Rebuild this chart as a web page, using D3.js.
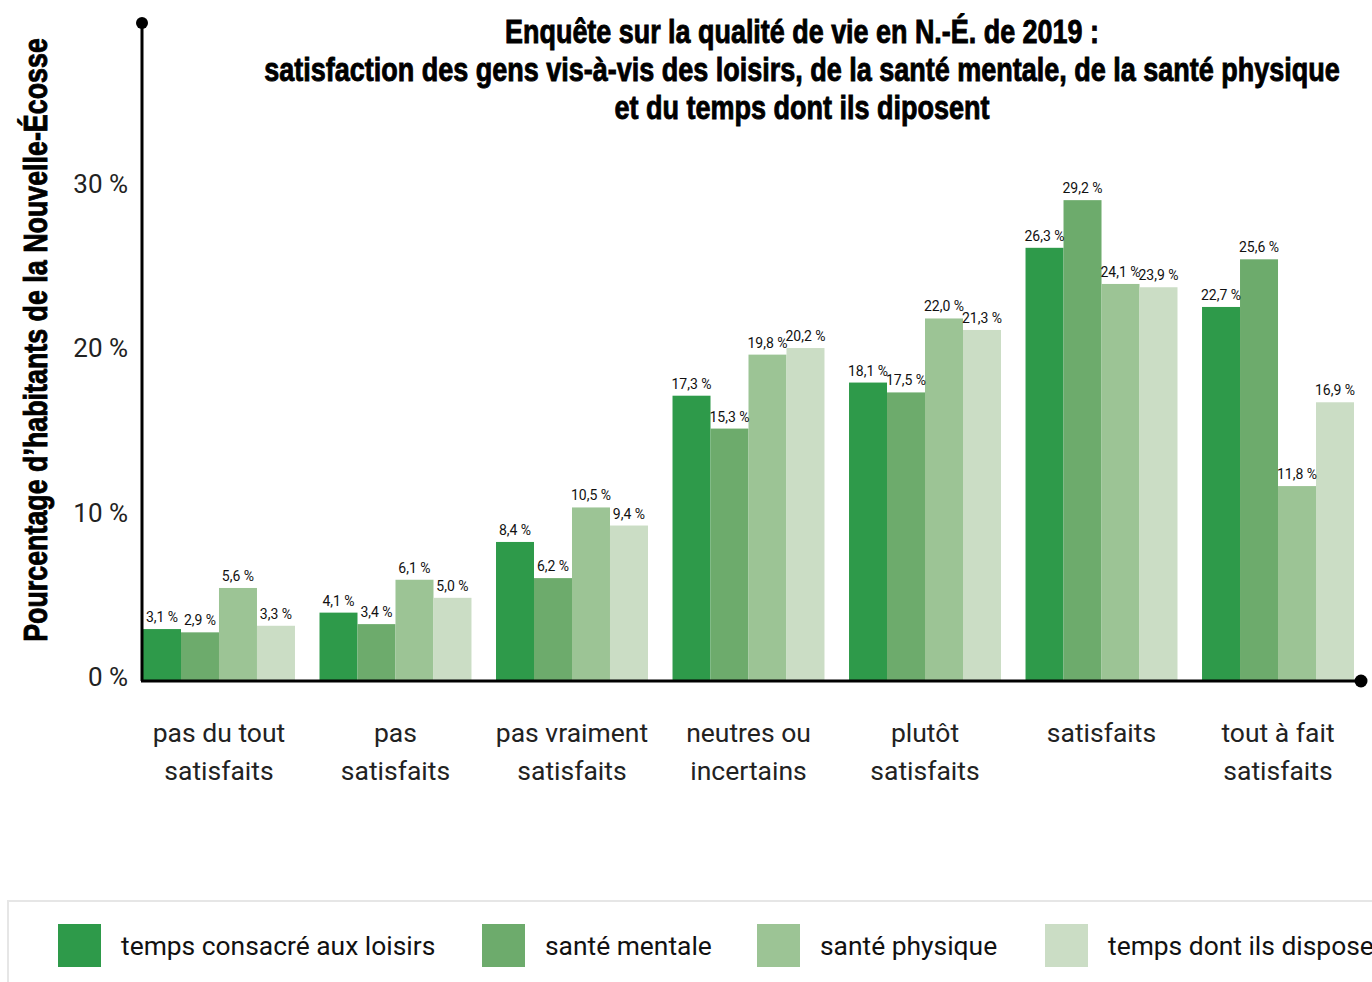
<!DOCTYPE html>
<html lang="fr">
<head>
<meta charset="utf-8">
<script src="https://cdn.jsdelivr.net/npm/d3@7"></script>
<style>
  body { margin: 0; background: #fff; }
  svg { display: block; }
</style>
</head>
<body>
<div id="chart"></div>
<script>
const categories = [
  ["pas du tout", "satisfaits"],
  ["pas", "satisfaits"],
  ["pas vraiment", "satisfaits"],
  ["neutres ou", "incertains"],
  ["plutôt", "satisfaits"],
  ["satisfaits"],
  ["tout à fait", "satisfaits"]
]
const seriesNames = [
  "temps consacré aux loisirs",
  "santé mentale",
  "santé physique",
  "temps dont ils disposent"
]
const loisirs = [3.1, 4.1, 8.4, 17.3, 18.1, 26.3, 22.7]
const santeMentale = [2.9, 3.4, 6.2, 15.3, 17.5, 29.2, 25.6]
const santePhysique = [5.6, 6.1, 10.5, 19.8, 22.0, 24.1, 11.8]
const tempsDispo = [3.3, 5.0, 9.4, 20.2, 21.3, 23.9, 16.9]
const yTicks = [0, 10, 20, 30]
const colors = ["#2e9a4a", "#6dab6c", "#9cc495", "#cbddc5"]

const series = [loisirs, santeMentale, santePhysique, tempsDispo]
const data = categories.map((c, i) => ({
  key: c.join(" "),
  lines: c,
  values: series.map((s, j) => ({ name: seriesNames[j], value: s[i] }))
}))

const W = 1372, H = 982
const svg = d3.select("#chart").append("svg").attr("width", W).attr("height", H)

const x0 = d3.scaleBand().domain(data.map((d) => d.key)).range([143, 1354])
  .paddingInner(0.139).paddingOuter(0)
const x1 = d3.scaleBand().domain(seriesNames).range([0, x0.bandwidth()])
const y = d3.scaleLinear().domain([0, 30]).range([680, 187])
const color = d3.scaleOrdinal().domain(seriesNames).range(colors)
const fmt = (v) => d3.format(".1f")(v).replace(".", ",") + " %"

// squeeze a condensed heading to the wanted width, keeping its height
function fitWidth(sel, len, tx, ty, rot) {
  sel.each(function () {
    const w = this.getComputedTextLength()
    const k = Math.min(1, len / w)
    d3.select(this).attr("transform", `translate(${tx},${ty}) rotate(${rot || 0}) scale(${k},1)`)
  })
}

// bars
const groups = svg.selectAll(".group").data(data).join("g")
  .attr("class", "group")
  .attr("transform", (d) => `translate(${x0(d.key)},0)`)

groups.selectAll("rect").data((d) => d.values).join("rect")
  .attr("x", (d) => x1(d.name))
  .attr("y", (d) => y(d.value))
  .attr("width", x1.bandwidth())
  .attr("height", (d) => y(0) - y(d.value))
  .attr("fill", (d) => color(d.name))

groups.selectAll(".val").data((d) => d.values).join("text")
  .attr("class", "val")
  .attr("x", (d) => x1(d.name) + x1.bandwidth() / 2)
  .attr("y", (d) => y(d.value) - 7)
  .attr("text-anchor", "middle")
  .style("font-family", "'Liberation Sans Narrow', Roboto, sans-serif")
  .style("font-size", "14px")
  .attr("fill", "#111")
  .text((d) => fmt(d.value))

// y ticks
svg.selectAll(".ytick").data(yTicks).join("text")
  .attr("class", "ytick")
  .attr("x", 128)
  .attr("y", (d) => y(d) - 3)
  .attr("dy", "0.35em")
  .attr("text-anchor", "end")
  .style("font-family", "Roboto, sans-serif")
  .style("font-size", "26px")
  .attr("fill", "#222")
  .text((d) => d + " %")

// axes lines
svg.append("line").attr("x1", 142).attr("x2", 142).attr("y1", 22).attr("y2", 681)
  .attr("stroke", "#000").attr("stroke-width", 3)
svg.append("line").attr("x1", 141).attr("x2", 1362).attr("y1", 681).attr("y2", 681)
  .attr("stroke", "#000").attr("stroke-width", 3)
svg.append("circle").attr("cx", 142).attr("cy", 23).attr("r", 6).attr("fill", "#000")
svg.append("circle").attr("cx", 1361).attr("cy", 681).attr("r", 6.5).attr("fill", "#000")

// category labels
const catLabels = svg.selectAll(".cat").data(data).join("text")
  .attr("class", "cat")
  .attr("x", (d) => x0(d.key) + x0.bandwidth() / 2)
  .attr("y", 742)
  .attr("text-anchor", "middle")
  .style("font-family", "Roboto, sans-serif")
  .style("font-size", "26.5px")
  .attr("fill", "#222")
catLabels.selectAll("tspan").data((d) => d.lines).join("tspan")
  .attr("x", function () { return d3.select(this.parentNode).attr("x") })
  .attr("dy", (d, i) => (i === 0 ? 0 : 38))
  .text((d) => d)

// title
const titleLines = [
  { text: "Enquête sur la qualité de vie en N.-É. de 2019 :", len: 594 },
  { text: "satisfaction des gens vis-à-vis des loisirs, de la santé mentale, de la santé physique", len: 1076 },
  { text: "et du temps dont ils diposent", len: 375 }
]
svg.selectAll(".title").data(titleLines).join("text")
  .attr("class", "title")
  .attr("text-anchor", "middle")
  .style("font-family", "'Liberation Sans Narrow', sans-serif")
  .style("font-weight", "bold")
  .style("font-size", "34px")
  .attr("fill", "#000")
  .attr("stroke", "#000")
  .attr("stroke-width", 0.9)
  .text((d) => d.text)
  .each(function (d, i) { fitWidth(d3.select(this), d.len, 802, 43 + i * 38) })

// y axis title
svg.append("text")
  .attr("text-anchor", "middle")
  .style("font-family", "'Liberation Sans Narrow', sans-serif")
  .style("font-weight", "bold")
  .style("font-size", "34px")
  .attr("fill", "#000")
  .attr("stroke", "#000")
  .attr("stroke-width", 0.9)
  .text("Pourcentage d’habitants de la Nouvelle-Écosse")
  .call(fitWidth, 604, 47, 340, -90)

// legend
const legend = svg.append("g")
legend.append("rect").attr("x", 8).attr("y", 901).attr("width", 1380).attr("height", 100)
  .attr("fill", "#fff").attr("stroke", "#e6e6e6").attr("stroke-width", 2)
const legendX = [58, 482, 757, 1045]
const items = legend.selectAll(".item").data(seriesNames).join("g")
  .attr("class", "item")
  .attr("transform", (d, i) => `translate(${legendX[i]},924)`)
items.append("rect").attr("width", 43).attr("height", 43).attr("fill", (d) => color(d))
items.append("text")
  .attr("x", 63).attr("y", 22).attr("dy", "0.35em")
  .style("font-family", "Roboto, sans-serif")
  .style("font-size", "26.4px")
  .attr("fill", "#111")
  .text((d) => d)
</script>
</body>
</html>
